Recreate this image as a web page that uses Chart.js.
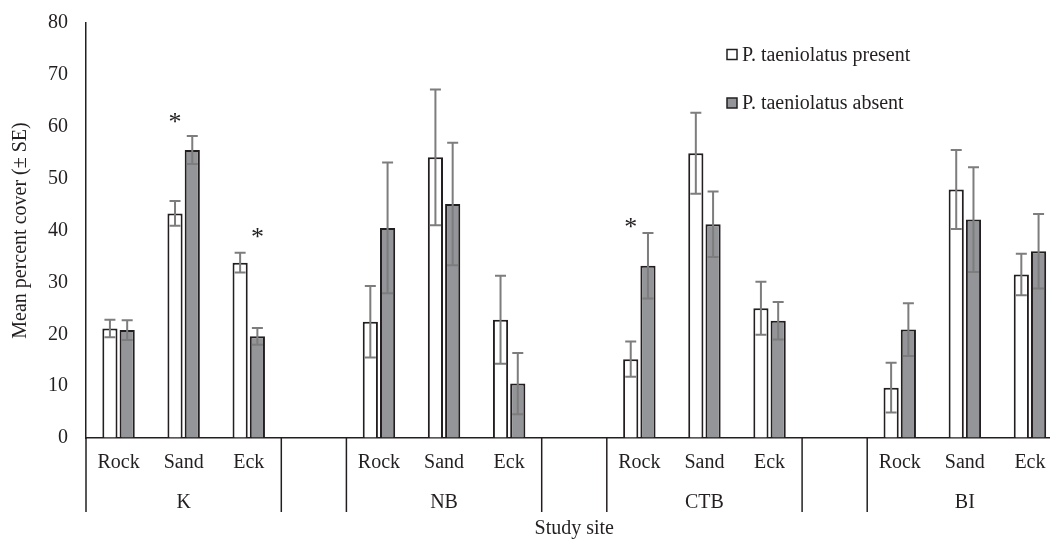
<!DOCTYPE html>
<html>
<head>
<meta charset="utf-8">
<script src="https://cdn.jsdelivr.net/npm/chart.js@4.4.0/dist/chart.umd.min.js"></script>
<style>
  html, body { margin: 0; padding: 0; background: #fff; overflow: hidden; }
  canvas { display: block; }
</style>
</head>
<body>
<canvas id="coverChart" width="1070" height="542"></canvas>
<script>
// habitat under each bar pair, blank slots separate the study sites
const habitats = ['Rock', 'Sand', 'Eck', '', 'Rock', 'Sand', 'Eck', '', 'Rock', 'Sand', 'Eck', '', 'Rock', 'Sand', 'Eck'];
const sites = ['K', 'NB', 'CTB', 'BI'];
const siteSlots = [1, 5, 9, 13];

const presentMean = [21.1, 43.3, 33.8, null, 22.4, 54.1, 22.8, null, 15.2, 54.9, 25.0, null, 9.7, 47.9, 31.5];
const presentSE   = [1.7, 2.4, 1.9, null, 6.9, 13.1, 8.5, null, 3.4, 7.8, 5.1, null, 4.8, 7.6, 4.0];
const absentMean  = [20.8, 55.5, 19.6, null, 40.5, 45.1, 10.5, null, 33.2, 41.2, 22.6, null, 20.9, 42.1, 36.0];
const absentSE    = [1.9, 2.7, 1.6, null, 12.6, 11.8, 5.9, null, 6.3, 6.3, 3.6, null, 5.1, 10.1, 7.2];

// significance asterisks: slot, series (0 present, 1 absent), level
const starSlot = [1, 2, 8];
const starSeries = [0, 1, 0];
const starLevel = [61.7, 39.5, 41.4];

const yTicks = [0, 10, 20, 30, 40, 50, 60, 70, 80];

const ink = '#231f20';
const greyFill = '#939598';
const errColor = '#7d7d7d';
const serif = "'Liberation Serif', 'Times New Roman', serif";

const errorBars = {
    id: 'errorBars',
    afterDatasetsDraw(chart) {
        const ctx = chart.ctx;
        const y = chart.scales.y;
        const seList = [presentSE, absentSE];
        ctx.save();
        ctx.strokeStyle = errColor;
        ctx.lineWidth = 2;
        chart.data.datasets.forEach((ds, d) => {
            const meta = chart.getDatasetMeta(d);
            meta.data.forEach((bar, i) => {
                const m = ds.data[i];
                if (m === null) return;
                const se = seList[d][i];
                const top = y.getPixelForValue(m + se);
                const bot = y.getPixelForValue(m - se);
                ctx.beginPath();
                ctx.moveTo(bar.x, top); ctx.lineTo(bar.x, bot);
                ctx.moveTo(bar.x - 5.5, top); ctx.lineTo(bar.x + 5.5, top);
                ctx.moveTo(bar.x - 5.5, bot); ctx.lineTo(bar.x + 5.5, bot);
                ctx.stroke();
            });
        });
        // asterisks
        ctx.fillStyle = ink;
        ctx.font = '26px ' + serif;
        ctx.textAlign = 'center';
        ctx.textBaseline = 'alphabetic';
        starSlot.forEach((s, k) => {
            const bar = chart.getDatasetMeta(starSeries[k]).data[s];
            ctx.fillText('*', bar.x, y.getPixelForValue(starLevel[k]) + 12);
        });
        ctx.restore();
    },
    afterDraw(chart) {
        const ctx = chart.ctx;
        const x = chart.scales.x;
        const area = chart.chartArea;
        ctx.save();
        // separators between study sites
        ctx.strokeStyle = ink;
        ctx.lineWidth = 1.5;
        const edges = [area.left];
        habitats.forEach((h, i) => {
            if (h === '') {
                edges.push((x.getPixelForValue(i - 1) + x.getPixelForValue(i)) / 2);
                edges.push((x.getPixelForValue(i) + x.getPixelForValue(i + 1)) / 2);
            }
        });
        edges.forEach(px => {
            ctx.beginPath();
            ctx.moveTo(px, area.bottom);
            ctx.lineTo(px, 512);
            ctx.stroke();
        });
        // site names
        ctx.fillStyle = ink;
        ctx.font = '20px ' + serif;
        ctx.textAlign = 'center';
        ctx.textBaseline = 'alphabetic';
        sites.forEach((s, k) => {
            ctx.fillText(s, x.getPixelForValue(siteSlots[k]), 508);
        });
        // legend
        const names = ['P. taeniolatus present', 'P. taeniolatus absent'];
        const fills = ['#ffffff', greyFill];
        const rows = [49.5, 98];
        ctx.textAlign = 'left';
        names.forEach((n, k) => {
            ctx.fillStyle = fills[k];
            ctx.fillRect(727, rows[k], 10, 10);
            ctx.strokeStyle = ink;
            ctx.lineWidth = 1.5;
            ctx.strokeRect(727, rows[k], 10, 10);
            ctx.fillStyle = ink;
            ctx.fillText(n, 742, rows[k] + 11);
        });
        ctx.restore();
    }
};

const chart = new Chart(document.getElementById('coverChart'), {
    type: 'bar',
    data: {
        labels: habitats,
        datasets: [{
            label: 'P. taeniolatus present',
            data: presentMean,
            backgroundColor: '#ffffff',
            borderColor: ink,
            borderWidth: 2
        }, {
            label: 'P. taeniolatus absent',
            data: absentMean,
            backgroundColor: greyFill,
            borderColor: ink,
            borderWidth: 2
        }]
    },
    options: {
        responsive: false,
        animation: false,
        layout: { padding: { top: 23, right: 7.5, bottom: 0, left: 0 } },
        datasets: { bar: { categoryPercentage: 0.53, barPercentage: 0.88 } },
        plugins: {
            legend: { display: false },
            tooltip: { enabled: false }
        },
        scales: {
            x: {
                grid: { display: true, drawOnChartArea: false, drawTicks: false },
                border: { color: ink, width: 1.5 },
                ticks: { color: ink, font: { family: serif, size: 20 }, padding: 13, maxRotation: 0, autoSkip: false },
                title: { display: true, text: 'Study site', color: ink, font: { family: serif, size: 20 }, padding: { top: 0, bottom: 1 } },
                afterFit(scale) { scale.height = 104; }
            },
            y: {
                min: 0,
                max: 80,
                afterBuildTicks(scale) { scale.ticks = yTicks.map(v => ({ value: v })); },
                grid: { display: true, drawOnChartArea: false, drawTicks: false },
                border: { color: ink, width: 1.5 },
                ticks: { color: ink, font: { family: serif, size: 20 }, padding: 18 },
                title: { display: true, text: 'Mean percent cover (\u00b1 SE)', color: ink, font: { family: serif, size: 20 }, padding: { top: 9, bottom: 0 } },
                afterFit(scale) {
                    scale.width = 86;
                    scale.paddingTop = 0;
                    scale.paddingBottom = 0;
                }
            }
        }
    },
    plugins: [errorBars]
});
</script>
</body>
</html>
